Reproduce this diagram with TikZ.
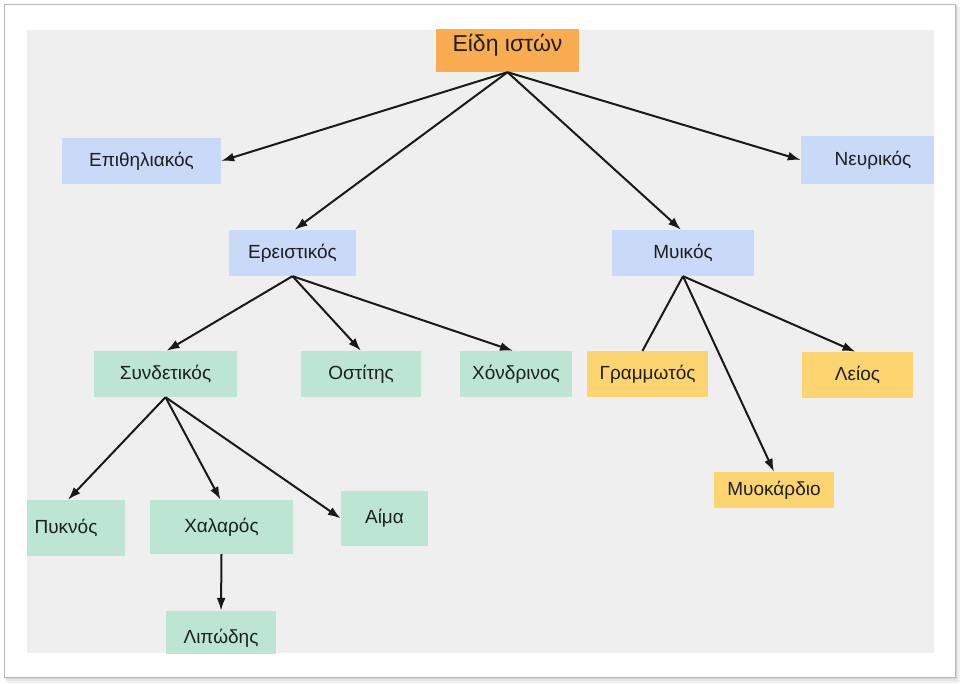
\documentclass[tikz,border=0pt]{standalone}
\usepackage{fontspec}
\setmainfont{Liberation Sans}
\usetikzlibrary{arrows.meta,calc}
\definecolor{bgray}{HTML}{EFEFEF}
\definecolor{cblue}{HTML}{C9DAF8}
\definecolor{cgreen}{HTML}{BCE6D3}
\definecolor{cyellow}{HTML}{FDD570}
\definecolor{corange}{HTML}{FAAC50}
\definecolor{ctext}{HTML}{1E1E1E}
\tikzset{
  box/.style={inner sep=0pt, text=ctext, font=\fontsize{19}{22}\selectfont, minimum width=#1},
  box/.default=120pt,
  bluebox/.style={box=#1, fill=cblue, minimum height=46pt},
  greenbox/.style={box=#1, fill=cgreen, minimum height=46pt},
  yellowbox/.style={box=#1, fill=cyellow, minimum height=46pt},
  conn/.style={line width=2pt, draw=black!90, -{Latex[length=13pt,width=9pt]}},
  plainconn/.style={line width=2pt, draw=black!90},
}
\begin{document}
\begin{tikzpicture}[x=1pt,y=-1pt]
\useasboundingbox (0,0) rectangle (960,684);
\fill[white] (0,0) rectangle (960,684);
% frame shadow
\fill[black!5] (7,7) rectangle (960,683);
\fill[black!10] (6,6) rectangle (958,681);
\fill[black!16] (5,5) rectangle (957,679);
\filldraw[fill=white, draw=black!28, line width=0.8pt] (4,4) rectangle (955,677);
% gray panel
\fill[bgray] (27,30) rectangle (934,653);
\begin{scope}
\clip (27,30) rectangle (934,653);
\node[box=143pt, fill=corange, minimum height=54pt, font=\fontsize{23}{26}\selectfont] (root) at (507.5,45) {Είδη ιστών};
\node[bluebox=159pt] (epith) at (141.5,161) {Επιθηλιακός};
\node[bluebox=144pt, minimum height=48pt] (neur) at (873,160) {Νευρικός};
\node[bluebox=127pt] (ereis) at (292.5,253) {Ερειστικός};
\node[bluebox=142pt] (muik) at (683,253) {Μυικός};
\node[greenbox=143pt] (synd) at (165.5,374) {Συνδετικός};
\node[greenbox=120pt] (ost) at (361,374) {Οστίτης};
\node[greenbox=112pt] (chond) at (516,374) {Χόνδρινος};
\node[yellowbox=121pt] (gramm) at (647.5,374) {Γραμμωτός};
\node[yellowbox=111pt] (leios) at (857.5,375) {Λείος};
\node[yellowbox=120pt, minimum height=36pt] (myok) at (774,490) {Μυοκάρδιο};
\node[greenbox=118pt, minimum height=56pt] (pykn) at (66,528) {Πυκνός};
\node[greenbox=143pt, minimum height=54pt] (chal) at (221.5,527) {Χαλαρός};
\node[greenbox=87pt, minimum height=55pt] (aima) at (384.5,518.5) {Αίμα};
\node[greenbox=110pt, minimum height=54pt] (lip) at (221,638) {Λιπώδης};
\end{scope}
% connectors
\draw[conn] (root.south) -- (epith.east);
\draw[conn] (root.south) -- ([xshift=2pt]ereis.north);
\draw[conn] (root.south) -- ([xshift=-2pt]muik.north);
\draw[conn] (root.south) -- (neur.west);
\draw[conn] (ereis.south) -- ([xshift=1pt]synd.north);
\draw[conn] (ereis.south) -- (ost.north);
\draw[conn] (ereis.south) -- ([xshift=-3pt]chond.north);
\draw[plainconn] (muik.south) -- ([xshift=-5pt]gramm.north);
\draw[conn] (muik.south) -- (myok.north);
\draw[conn] (muik.south) -- ([xshift=-2pt]leios.north);
\draw[conn] (synd.south) -- ([xshift=2pt]pykn.north);
\draw[conn] (synd.south) -- ([xshift=-1pt]chal.north);
\draw[conn] (synd.south) -- (aima.west);
\draw[conn] (chal.south) -- (lip.north);
\end{tikzpicture}
\end{document}
